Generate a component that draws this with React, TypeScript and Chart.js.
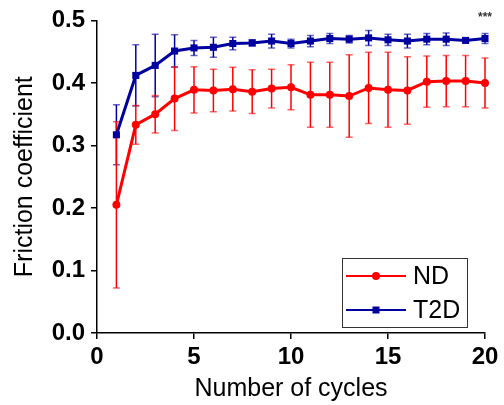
import React, { useEffect, useRef } from "react";
import { Chart, registerables } from "chart.js";

Chart.register(...registerables);

const cycles = [1, 2, 3, 4, 5, 6, 7, 8, 9, 10, 11, 12, 13, 14, 15, 16, 17, 18, 19, 20];
const ndMean = [0.205, 0.333, 0.350, 0.375, 0.389, 0.388, 0.390, 0.386, 0.391, 0.393, 0.381, 0.381, 0.379, 0.392, 0.389, 0.388, 0.402, 0.403, 0.403, 0.400];
const ndErr = [0.133, 0.031, 0.030, 0.051, 0.037, 0.034, 0.035, 0.035, 0.031, 0.036, 0.052, 0.052, 0.066, 0.057, 0.060, 0.054, 0.041, 0.041, 0.041, 0.040];
const t2dMean = [0.317, 0.412, 0.428, 0.451, 0.456, 0.457, 0.463, 0.464, 0.467, 0.463, 0.467, 0.471, 0.470, 0.472, 0.469, 0.467, 0.470, 0.470, 0.468, 0.471];
const t2dErr = [0.048, 0.049, 0.050, 0.026, 0.012, 0.016, 0.010, 0.005, 0.011, 0.007, 0.009, 0.008, 0.006, 0.012, 0.009, 0.011, 0.009, 0.010, 0.004, 0.008];
const seriesNames = ["ND", "T2D"];
const xTicks = [0, 5, 10, 15, 20];
const yTicks = [0, 0.1, 0.2, 0.3, 0.4, 0.5];
const significance = "***";

const RED = "#ff0000";
const BLUE = "#0000a0";

const errorBarPlugin = {
  id: "errorBars",
  beforeDatasetsDraw(chart: any) {
    const { ctx, scales } = chart;
    const xs = scales.x;
    const ys = scales.y;
    const sets = [
      { mean: ndMean, err: ndErr, color: RED, cap: "rgba(255,0,0,0.6)" },
      { mean: t2dMean, err: t2dErr, color: BLUE, cap: "rgba(0,0,160,0.6)" },
    ];
    ctx.save();
    for (let s = sets.length - 1; s >= 0; s--) {
      const set = sets[s];
      for (let i = 0; i < cycles.length; i++) {
        const px = xs.getPixelForValue(cycles[i]);
        const top = ys.getPixelForValue(set.mean[i] + set.err[i]);
        const bot = ys.getPixelForValue(set.mean[i] - set.err[i]);
        ctx.strokeStyle = set.color;
        ctx.lineWidth = 1.5;
        ctx.beginPath();
        ctx.moveTo(px, top);
        ctx.lineTo(px, bot);
        ctx.stroke();
        ctx.strokeStyle = set.cap;
        ctx.lineWidth = 1.5;
        ctx.beginPath();
        ctx.moveTo(px - 3.5, top);
        ctx.lineTo(px + 3.5, top);
        ctx.moveTo(px - 3.5, bot);
        ctx.lineTo(px + 3.5, bot);
        ctx.stroke();
      }
    }
    ctx.restore();
  },
};

const legendPlugin = {
  id: "boxLegend",
  afterDraw(chart: any) {
    const { ctx, chartArea, scales } = chart;
    ctx.save();
    const w = 125;
    const h = 69;
    const right = chartArea.right - 18;
    const bottom = chartArea.bottom - 6;
    const left = right - w;
    const top = bottom - h;
    ctx.fillStyle = "#ffffff";
    ctx.fillRect(left, top, w, h);
    ctx.strokeStyle = "#333333";
    ctx.lineWidth = 1;
    ctx.strokeRect(left + 0.5, top + 0.5, w, h);
    const rows = [
      { name: seriesNames[0], color: RED, y: top + 18, shape: "circle" },
      { name: seriesNames[1], color: BLUE, y: top + 52, shape: "rect" },
    ];
    for (const r of rows) {
      ctx.strokeStyle = r.color;
      ctx.lineWidth = 2;
      ctx.beginPath();
      ctx.moveTo(left + 4, r.y);
      ctx.lineTo(left + 64, r.y);
      ctx.stroke();
      ctx.fillStyle = r.color;
      if (r.shape === "circle") {
        ctx.beginPath();
        ctx.arc(left + 34, r.y, 4, 0, Math.PI * 2);
        ctx.fill();
      } else {
        ctx.fillRect(left + 30.5, r.y - 3.5, 7, 7);
      }
      ctx.fillStyle = "#000000";
      ctx.font = "25px 'Liberation Sans', Arial, sans-serif";
      ctx.textAlign = "left";
      ctx.textBaseline = "middle";
      ctx.fillText(r.name, left + 71, r.y + 1);
    }
    // significance marker
    ctx.fillStyle = "#333333";
    ctx.font = "bold 12px 'Liberation Sans', Arial, sans-serif";
    ctx.textAlign = "center";
    ctx.textBaseline = "middle";
    ctx.fillText(significance, scales.x.getPixelForValue(20), chartArea.top - 3);
    ctx.restore();
  },
};

export default function App() {
  const ref = useRef<HTMLCanvasElement | null>(null);
  useEffect(() => {
    if (!ref.current) return;
    const font = "'Liberation Sans', Arial, sans-serif";
    const chart = new Chart(ref.current, {
      type: "line",
      data: {
        datasets: [
          {
            label: seriesNames[0],
            data: cycles.map((c, i) => ({ x: c, y: ndMean[i] })),
            borderColor: RED,
            backgroundColor: RED,
            borderWidth: 3,
            pointStyle: "circle",
            pointRadius: 4,
            pointBorderWidth: 0,
            pointBackgroundColor: RED,
            tension: 0,
            clip: false as any,
          },
          {
            label: seriesNames[1],
            data: cycles.map((c, i) => ({ x: c, y: t2dMean[i] })),
            borderColor: BLUE,
            backgroundColor: BLUE,
            borderWidth: 3,
            pointStyle: "rect",
            pointRadius: 5,
            pointBorderWidth: 0,
            pointBackgroundColor: BLUE,
            tension: 0,
            clip: false as any,
          },
        ],
      },
      options: {
        responsive: false,
        animation: false,
        devicePixelRatio: 1,
        layout: { padding: { top: 20, right: 19, bottom: 1, left: 0 } },
        plugins: {
          legend: { display: false },
          tooltip: { enabled: false },
        },
        scales: {
          x: {
            type: "linear",
            min: 0,
            max: 20,
            afterBuildTicks: (s: any) => {
              s.ticks = xTicks.map((v) => ({ value: v }));
            },
            afterFit: (s: any) => {
              s.height = 71;
            },
            ticks: {
              color: "#000",
              font: { family: font, size: 24, weight: "bold" },
              padding: 4,
              maxRotation: 0,
              callback: (v: any) => String(v),
            },
            grid: { drawOnChartArea: false, drawTicks: true, tickLength: 6, color: "#000", lineWidth: 1.5 },
            border: { color: "#000", width: 1.5 },
            title: {
              display: true,
              text: "Number of cycles",
              color: "#000",
              font: { family: font, size: 25 },
              padding: { top: 0, bottom: 0 },
            },
          },
          y: {
            type: "linear",
            min: 0,
            max: 0.5,
            afterBuildTicks: (s: any) => {
              s.ticks = yTicks.map((v) => ({ value: v }));
            },
            afterFit: (s: any) => {
              s.width = 97;
            },
            ticks: {
              color: "#000",
              font: { family: font, size: 24, weight: "bold" },
              padding: 6,
              callback: (v: any) => Number(v).toFixed(1),
            },
            grid: { drawOnChartArea: false, drawTicks: true, tickLength: 6, color: "#000", lineWidth: 1.5 },
            border: { color: "#000", width: 1.5 },
            title: {
              display: true,
              text: "Friction coefficient",
              color: "#000",
              font: { family: font, size: 25 },
              padding: { top: 10, bottom: 0 },
            },
          },
        },
      },
      plugins: [errorBarPlugin, legendPlugin],
    });
    return () => chart.destroy();
  }, []);
  return (
    <div style={{ position: "absolute", left: 0, top: 0, width: 504, height: 405 }}>
      <canvas ref={ref} width={504} height={405} style={{ width: 504, height: 405 }} />
    </div>
  );
}
